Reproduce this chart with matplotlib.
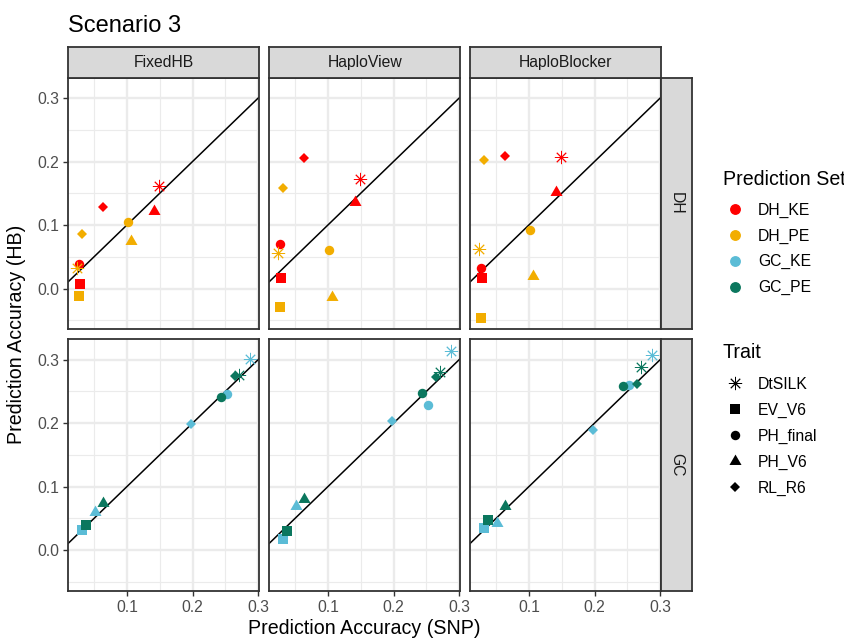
import matplotlib
matplotlib.use("Agg")
import matplotlib.pyplot as plt
from matplotlib.lines import Line2D
import numpy as np

plt.rcParams['font.family'] = ['Liberation Sans', 'DejaVu Sans']

# data: one value per (prediction set, trait)
pred_sets = ['DH_KE', 'DH_PE', 'GC_KE', 'GC_PE']
traits = ['DtSILK', 'EV_V6', 'PH_final', 'PH_V6', 'RL_R6']
methods = ['FixedHB', 'HaploView', 'HaploBlocker']
populations = ['DH', 'GC']

# SNP accuracy (x), rows follow pred_sets, columns follow traits
snp_acc = [[0.149, 0.029, 0.027, 0.141, 0.063],
           [0.024, 0.027, 0.102, 0.106, 0.031],
           [0.288, 0.032, 0.253, 0.051, 0.198],
           [0.270, 0.038, 0.243, 0.063, 0.264]]

# haplotype block accuracy (y) per method
fixedhb_acc = [[0.161, 0.007, 0.038, 0.122, 0.128],
               [0.033, -0.011, 0.105, 0.075, 0.086],
               [0.301, 0.031, 0.246, 0.060, 0.199],
               [0.276, 0.040, 0.241, 0.075, 0.274]]
haploview_acc = [[0.173, 0.016, 0.070, 0.136, 0.205],
                 [0.056, -0.029, 0.060, -0.013, 0.159],
                 [0.314, 0.018, 0.229, 0.069, 0.203],
                 [0.280, 0.030, 0.247, 0.081, 0.272]]
haploblocker_acc = [[0.207, 0.017, 0.033, 0.152, 0.209],
                    [0.063, -0.046, 0.092, 0.019, 0.202],
                    [0.307, 0.035, 0.260, 0.042, 0.189],
                    [0.289, 0.048, 0.259, 0.069, 0.262]]

set_colors = ['#FF0000', '#F2AD00', '#5BBCD6', '#0B775E']

tri = [(-1, -0.5774), (1, -0.5774), (0, 1.1547)]
trait_markers = {'DtSILK': dict(marker=(8, 2, 0), ms=9.5, mew=0.65),
                 'EV_V6': dict(marker='s', ms=6.6),
                 'PH_final': dict(marker='o', ms=6.8),
                 'PH_V6': dict(marker=tri, ms=10.0),
                 'RL_R6': dict(marker='D', ms=4.6)}

W, H = 845, 638
fig = plt.figure(figsize=(W / 100, H / 100), dpi=100)

col_left = [68.3, 269.3, 470.3]
row_top = [77.7, 339.3]
pw, ph = 190.7, 251.5
border = '#333333'

xs_all = np.array(snp_acc).ravel()
ys_all = np.concatenate([np.ravel(a) for a in (fixedhb_acc, haploview_acc, haploblocker_acc)])
xr = xs_all.max() - xs_all.min()
yr = ys_all.max() - ys_all.min()
xlim = (xs_all.min() - 0.05 * xr, xs_all.max() + 0.05 * xr)
ylim = (ys_all.min() - 0.05 * yr, ys_all.max() + 0.05 * yr)

method_acc = [fixedhb_acc, haploview_acc, haploblocker_acc]


def fig_rect(l, t, w, h):
    return [l / W, 1 - (t + h) / H, w / W, h / H]


def strip_axes(rect, label, rot):
    sax = fig.add_axes(rect)
    sax.set_facecolor('#D9D9D9')
    sax.set_xticks([])
    sax.set_yticks([])
    for s in sax.spines.values():
        s.set_color(border)
        s.set_linewidth(1.3)
    sax.text(0.5, 0.5, label, ha='center', va='center', fontsize=11.3,
             color='#1A1A1A', rotation=rot, transform=sax.transAxes)


for r, pop in enumerate(populations):
    for c, meth in enumerate(methods):
        ax = fig.add_axes(fig_rect(col_left[c], row_top[r], pw, ph))
        ax.set_xlim(xlim)
        ax.set_ylim(ylim)
        ax.set_xticks([0.1, 0.2, 0.3])
        ax.set_xticks([0.05, 0.15, 0.25], minor=True)
        ax.set_yticks([0.0, 0.1, 0.2, 0.3])
        ax.set_yticks([-0.05, 0.05, 0.15, 0.25], minor=True)
        ax.grid(True, which='major', color='#EBEBEB', lw=1.7, zorder=0)
        ax.grid(True, which='minor', color='#EBEBEB', lw=0.85, zorder=0)
        ax.set_axisbelow(True)
        for s in ax.spines.values():
            s.set_color(border)
            s.set_linewidth(1.3)
        ax.tick_params(which='minor', length=0)
        ax.tick_params(which='major', length=3.6, width=1.0, color=border,
                       labelsize=11.3, labelcolor='#4D4D4D', pad=2.8)
        if r == 1:
            ax.set_xticklabels(['0.1', '0.2', '0.3'])
        else:
            ax.tick_params(axis='x', length=0, labelbottom=False)
        if c == 0:
            ax.set_yticklabels(['0.0', '0.1', '0.2', '0.3'])
        else:
            ax.tick_params(axis='y', length=0, labelleft=False)

        ax.axline((0, 0), slope=1, color='black', lw=1.1, zorder=2)

        acc = method_acc[c]
        rows = [0, 1] if pop == 'DH' else [2, 3]
        for si in rows:
            for ti, tr in enumerate(traits):
                st = trait_markers[tr]
                ax.plot(snp_acc[si][ti], acc[si][ti], ls='none',
                        marker=st['marker'], ms=st['ms'],
                        mew=st.get('mew', 0), color=set_colors[si],
                        mec=set_colors[si], zorder=3)

        if r == 0:
            strip_axes(fig_rect(col_left[c], 46.7, pw, 31.0), meth, 0)
        if c == 2:
            strip_axes(fig_rect(661.0, row_top[r], 30.7, ph), pop, -90)

fig.text(68.3 / W, 1 - 32 / H, 'Scenario 3', fontsize=17, ha='left', va='baseline')
fig.text(364 / W, 1 - 633.5 / H, 'Prediction Accuracy (SNP)', fontsize=14.1,
         ha='center', va='baseline')
fig.text(17 / W, 1 - 334 / H, 'Prediction Accuracy (HB)', fontsize=14.1,
         ha='center', va='center', rotation=90)

# legends
set_handles = [Line2D([], [], ls='none', marker='o', ms=6.8, color=col)
               for col in set_colors]
trait_handles = []
for tr in traits:
    st = trait_markers[tr]
    trait_handles.append(Line2D([], [], ls='none', marker=st['marker'], ms=st['ms'],
                                mew=st.get('mew', 0), color='black', mec='black'))

leg_kw = dict(loc='upper left', frameon=False, fontsize=11.3,
              borderpad=0, borderaxespad=0, handlelength=1.57, handletextpad=0.68,
              labelspacing=0.69)
fig.text(722.7 / W, 1 - 185 / H, 'Prediction Set', fontsize=14.1, ha='left', va='baseline')
fig.legend(set_handles, pred_sets, bbox_to_anchor=(722.7 / W, 1 - 202.4 / H), **leg_kw)
fig.text(722.7 / W, 1 - 358.3 / H, 'Trait', fontsize=14.1, ha='left', va='baseline')
fig.legend(trait_handles, traits, bbox_to_anchor=(722.7 / W, 1 - 376.7 / H), **leg_kw)

fig.savefig('out.png', dpi=100)
